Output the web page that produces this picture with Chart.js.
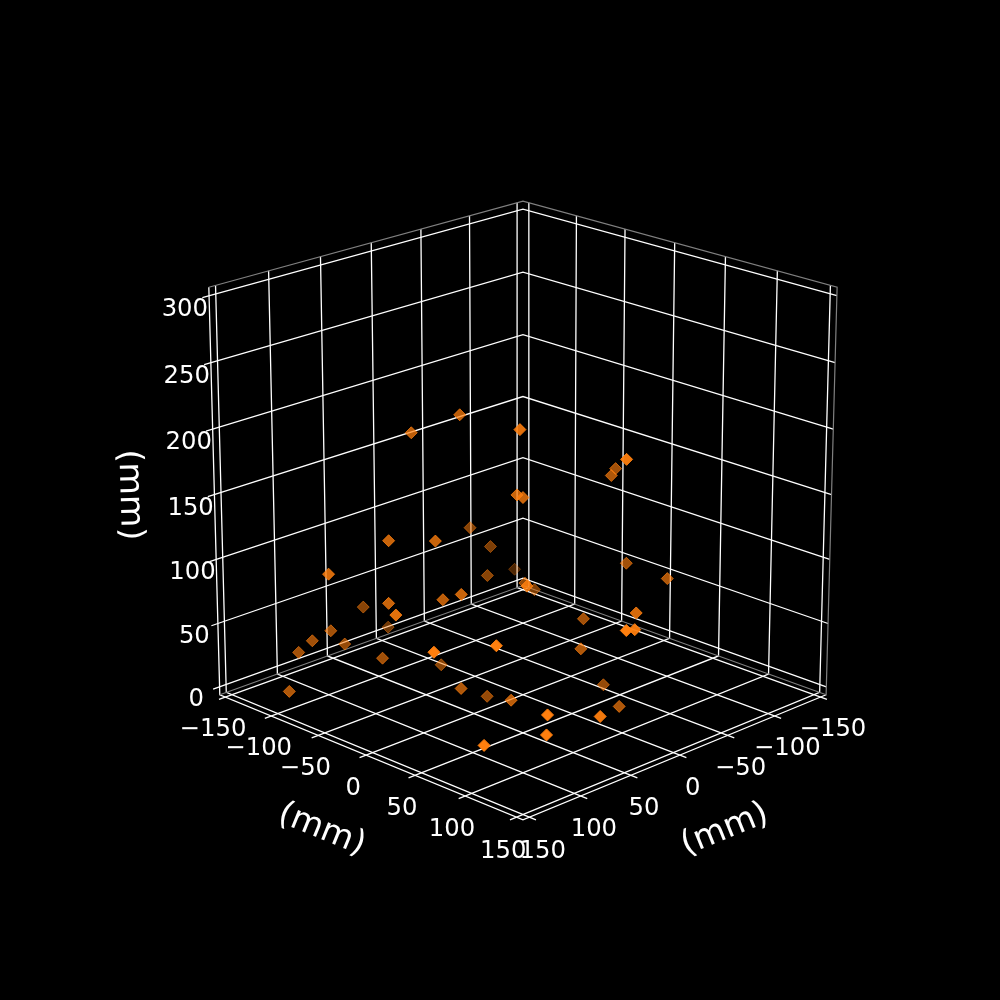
<!DOCTYPE html>
<html>
<head>
<meta charset="utf-8">
<title>3D scatter</title>
<script src="https://cdn.jsdelivr.net/npm/chart.js@4"></script>
<style>
  html, body { margin: 0; background: #000; }
  canvas { display: block; }
</style>
</head>
<body>
<canvas id="chart" width="1000" height="1000"></canvas>
<script>
// measured points, millimetres
const xMm = [48, 20, 33, -1, -77, -60, 19, 16, -101, -66, -70, 91, 68, -19, -39, -19, 61, 64, 102, 126, 16, 140, 108, 76, 21, -24, 43, -54, 140, 51, 98, 109, 80, 118, 142, 54, 16, 44, 95, 99, 131, -7, -34, 42, 24, -14, -46, -23, 56];
const yMm = [-65, -44, 30, 101, 18, 30, 13, 16, -110, 40, 77, -44, -20, -74, -73, -56, -20, 2, -33, 0, -126, 53, 82, -68, -64, -22, 47, -42, -54, -115, -99, -107, -104, -112, -96, -9, -21, 32, 119, 122, 93, 106, 28, 143, 134, 45, 37, 75, 132];
const zMm = [193, 205, 215, 202, 155, 157, 158, 156, 35, 90, 87, 127, 127, 100, 80, 67, 80, 91, 85, 92, 16, 83, 87, 25, 5, 69, 104, 50, 112, 45, 44, 37, 27, 29, 10, 12, -9, 12, 42, 29, 22, 86, 52, 97, 90, 39, -1, 0, 33];

const xTicks = [-150, -100, -50, 0, 50, 100, 150];
const yTicks = [-150, -100, -50, 0, 50, 100, 150];
const zTicks = [0, 50, 100, 150, 200, 250, 300];

// axis limits and pane padding (1/48 of the range on each side)
const xyLimit = 150;
const zLimit = 300;
const pad = 6.25;
const tickOut = 12.5;

const elev = 20 * Math.PI / 180;
const azim = 45 * Math.PI / 180;
const dist = 10;

// same perspective as a matplotlib 3d axes in a 10x10in figure
function view(x, y, z) {
    const px = (x + xyLimit) / (2 * xyLimit) - 0.5;
    const py = (y + xyLimit) / (2 * xyLimit) - 0.5;
    const pz = z / zLimit - 0.5;
    const u = -px * Math.sin(azim) + py * Math.cos(azim);
    const q = px * Math.cos(azim) + py * Math.sin(azim);
    const v = pz * Math.cos(elev) - q * Math.sin(elev);
    const d = pz * Math.sin(elev) + q * Math.cos(elev);
    return { u: u / (dist - d), v: v / (dist - d), d: d };
}

function project(x, y, z) {
    const p = view(x, y, z);
    return { x: 522.97 + 4189 * p.u, y: 494.6 - 4162 * p.v };
}

function line3d(points, color, width) {
    return {
        type: 'scatter',
        data: points.map(p => project(p[0], p[1], p[2])),
        showLine: true,
        fill: false,
        borderColor: color,
        borderWidth: width,
        pointRadius: 0,
        tension: 0,
        clip: false
    };
}

const lo = -xyLimit - pad;
const hi = xyLimit + pad;
const zLo = -pad;
const zHi = zLimit + pad;
const gridColor = '#ffffff';
const edgeColor = '#808080';
const gridWidth = 1.3;

const lines = [];

// pane outlines
lines.push(line3d([[hi, lo, zHi], [lo, lo, zHi], [lo, hi, zHi], [lo, hi, zLo], [lo, lo, zLo], [hi, lo, zLo]], edgeColor, 1.2));
// axis lines at the front of the floor and the left wall
lines.push(line3d([[lo, hi, zLo], [hi, hi, zLo], [hi, lo, zLo], [hi, lo, zHi]], gridColor, gridWidth));

// grid with the tick stub on the end
xTicks.forEach(t => {
    lines.push(line3d([[t, hi + tickOut / 2, zLo], [t, lo, zLo], [t, lo, zHi]], gridColor, gridWidth));
});
yTicks.forEach(t => {
    lines.push(line3d([[hi + tickOut / 2, t, zLo], [lo, t, zLo], [lo, t, zHi]], gridColor, gridWidth));
});
zTicks.forEach(t => {
    lines.push(line3d([[hi + tickOut / 2, lo, t], [lo, lo, t], [lo, hi, t]], gridColor, gridWidth));
});

// points go far to near, alpha fades with depth
const depthZ = xMm.map((x, i) => -dist / (dist - view(x, yMm[i], zMm[i]).d));
const zMin = Math.min(...depthZ);
const zMax = Math.max(...depthZ);
const drawOrder = xMm.map((x, i) => i).sort((a, b) => depthZ[b] - depthZ[a]);
const pointColors = drawOrder.map(i => {
    const alpha = 1 - 0.7 * (depthZ[i] - zMin) / (zMax - zMin);
    return 'rgba(255, 127, 14, ' + alpha.toFixed(3) + ')';
});

const scatterSet = {
    type: 'scatter',
    data: drawOrder.map(i => project(xMm[i], yMm[i], zMm[i])),
    pointStyle: 'rectRot',
    pointRadius: 6,
    pointBackgroundColor: pointColors,
    pointBorderColor: pointColors,
    pointBorderWidth: 1,
    showLine: false,
    clip: false
};

function tickText(v) {
    return v < 0 ? '\u2212' + Math.abs(v) : String(v);
}

// tick labels and axis titles
const textPlugin = {
    id: 'textPlugin',
    afterDatasetsDraw(chart) {
        const ctx = chart.ctx;
        const sx = chart.scales.x;
        const sy = chart.scales.y;
        ctx.save();
        ctx.fillStyle = '#ffffff';
        ctx.textAlign = 'center';
        ctx.textBaseline = 'middle';
        ctx.font = '24.3px "DejaVu Sans"';
        function label(p, text) {
            ctx.fillText(text, sx.getPixelForValue(p.x), sy.getPixelForValue(p.y));
        }
        xTicks.forEach(t => label(project(t, 169, -28), tickText(t)));
        yTicks.forEach(t => label(project(169, t, -28), tickText(t)));
        zTicks.forEach(t => label(project(168.5, -168.5, t - 10.5), tickText(t)));

        ctx.font = '33.3px "DejaVu Sans"';
        function title(x, y, angle) {
            ctx.save();
            ctx.translate(sx.getPixelForValue(x), sy.getPixelForValue(y));
            ctx.rotate(angle * Math.PI / 180);
            ctx.fillText('(mm)', 0, 0);
            ctx.restore();
        }
        title(321.7, 830, 22);
        title(725, 830, -22);
        title(129.3, 495, 88.4);
        ctx.restore();
    }
};

new Chart(document.getElementById('chart'), {
    type: 'scatter',
    data: { datasets: [scatterSet].concat(lines) },
    options: {
        responsive: false,
        devicePixelRatio: 1,
        animation: false,
        layout: { padding: 0, autoPadding: false },
        plugins: { legend: { display: false }, tooltip: { enabled: false } },
        scales: {
            x: { type: 'linear', min: 0, max: 1000, display: false },
            y: { type: 'linear', min: 0, max: 1000, reverse: true, display: false }
        }
    },
    plugins: [textPlugin]
});
</script>
</body>
</html>
